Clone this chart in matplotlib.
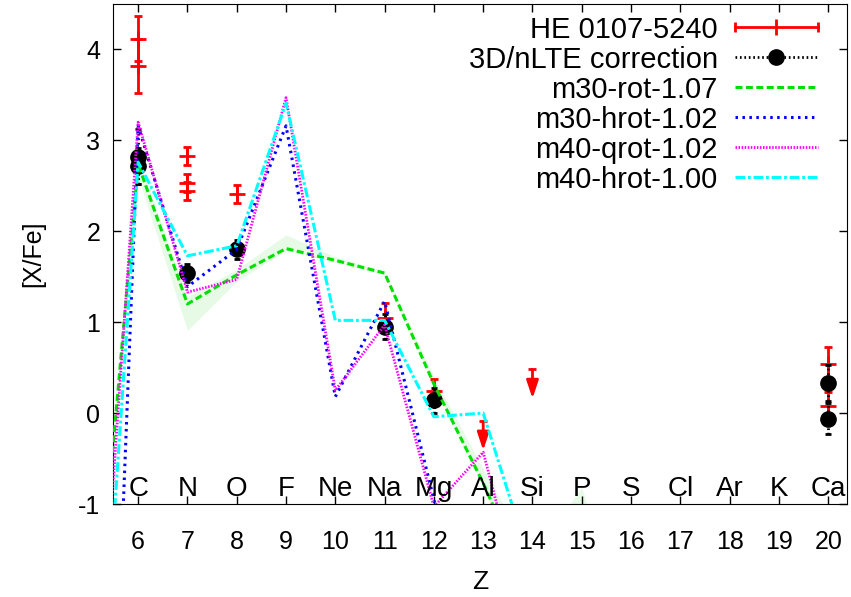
import numpy as np
import matplotlib
matplotlib.use('Agg')
import matplotlib.pyplot as plt

plt.rcParams['font.family'] = ['Liberation Sans', 'DejaVu Sans']
plt.rcParams['axes.unicode_minus'] = False
plt.rcParams['lines.scale_dashes'] = False

# element symbols shown inside the frame
elem_z = np.arange(6, 21)
elem_names = ['C', 'N', 'O', 'F', 'Ne', 'Na', 'Mg', 'Al', 'Si', 'P', 'S',
              'Cl', 'Ar', 'K', 'Ca']

# HE 0107-5240 observed abundances
he_z = [6, 6, 7, 7, 7, 8, 11, 12, 20, 20]
he_val = [4.12, 3.82, 2.83, 2.53, 2.44, 2.41, 1.05, 0.24, 0.54, 0.08]
he_err = [0.25, 0.30, 0.10, 0.10, 0.10, 0.10, 0.16, 0.14, 0.19, 0.15]

# upper limits (Al, Si)
lim_z = [13, 14]
lim_val = [-0.09, 0.48]

# 3D/nLTE corrected values
nlte_z = [6, 6, 7, 8, 11, 12, 20, 20]
nlte_val = [2.82, 2.72, 1.54, 1.80, 0.95, 0.14, 0.33, -0.06]
nlte_err = [0.30, 0.20, 0.10, 0.10, 0.14, 0.14, 0.20, 0.17]

# model yields, Z = 5 .. 16
model_z = np.arange(5, 17)
m30_rot = [-3.35, 2.74, 1.20, 1.52, 1.81, 1.68, 1.54, 0.32, -0.77, -2.0, -1.6, -3.0]
m30_rot_lo = [-3.5, 2.60, 0.91, 1.45, 1.79, 1.66, 1.52, 0.30, -0.80, -2.2, -1.8, -3.2]
m30_rot_hi = [-3.2, 2.80, 1.28, 1.58, 1.96, 1.72, 1.56, 0.40, -0.62, -1.57, -0.82, -2.6]
m30_hrot = [-10.7, 3.16, 1.39, 1.80, 3.16, 0.18, 1.23, -0.95, -3.5, -5.0, -6.0, -7.0]
m40_qrot = [-4.6, 3.20, 1.33, 1.47, 3.47, 0.25, 0.97, -1.03, -0.43, -2.5, -4.0, -5.0]
m40_hrot = [-5.25, 2.76, 1.73, 1.84, 3.41, 1.02, 1.02, -0.04, 0.00, -1.72, -3.0, -4.0]

green = '#00e000'
styles = [
    ('m30-rot-1.07', m30_rot, green, (0, (5, 2.5)), 2.2),
    ('m30-hrot-1.02', m30_hrot, '#0000ff', (0, (1.8, 3.2)), 2.2),
    ('m40-qrot-1.02', m40_qrot, '#ff00ff', (0, (1.1, 1.1)), 2.0),
    ('m40-hrot-1.00', m40_hrot, '#00ffff', (0, (7, 2, 2, 2)), 2.2),
]

fig = plt.figure(figsize=(8.51, 5.97), dpi=100)
ax = fig.add_axes([113 / 851, 1 - 504 / 597, 734 / 851, 500 / 597])

# model band
ax.fill_between(model_z, m30_rot_lo, m30_rot_hi, color='#e6fae6', lw=0, zorder=1)

# observations
ax.errorbar(he_z, he_val, yerr=he_err, fmt='none', ecolor='red',
            elinewidth=2, capsize=3, capthick=2, zorder=3)
ax.plot(he_z, he_val, '+', color='red', ms=12, mew=2, ls='none', zorder=3)
for z, v in zip(lim_z, lim_val):
    ax.annotate('', xy=(z, v - 0.32), xytext=(z, v),
                arrowprops=dict(arrowstyle='-|>,head_length=0.9,head_width=0.3',
                                color='red', lw=2, mutation_scale=12,
                                shrinkA=0, shrinkB=0), zorder=3)
ax.plot(lim_z, lim_val, '_', color='red', ms=6, mew=2, ls='none', zorder=3)

eb = ax.errorbar(nlte_z, nlte_val, yerr=nlte_err, fmt='o', color='black',
                 ms=11, ecolor='black', elinewidth=2, capsize=2.5,
                 capthick=2, zorder=4)
eb[2][0].set_linestyle((0, (1.2, 2.0)))

for lab, vals, col, ls, lw in styles:
    ax.plot(model_z, vals, color=col, ls=ls, lw=lw, zorder=5)

for z, name in zip(elem_z, elem_names):
    ax.text(z, -0.83, name, ha='center', va='center', fontsize=20, zorder=6)

ax.set_xlim(5.49, 20.38)
ax.set_ylim(-1, 4.5)
ax.set_xticks(elem_z)
ax.set_yticks(range(-1, 5))
ax.tick_params(direction='in', length=6, width=1, top=True, right=True,
               labelsize=18)
ax.tick_params(axis='x', pad=19)
ax.tick_params(axis='y', pad=9)
ax.set_xlabel('Z', fontsize=19, labelpad=11)
ax.set_ylabel('[X/Fe]', fontsize=18, labelpad=24)

# legend, gnuplot style: text right-aligned, sample on the right
leg_labels = ['HE 0107-5240', '3D/nLTE correction'] + [s[0] for s in styles]
y0, dy = 0.954, 0.06
x_text, x1, x2 = 0.824, 0.847, 0.960
xm = (x1 + x2) / 2
tr = ax.transAxes
for i, lab in enumerate(leg_labels):
    y = y0 - i * dy
    ax.text(x_text, y, lab, transform=tr, ha='right', va='center_baseline',
            fontsize=21, zorder=7)
    if i == 0:
        ax.plot([x1, x2], [y, y], color='red', lw=2, transform=tr, zorder=7)
        ax.plot([x1, x2], [y, y], '|', color='red', ms=7, mew=2, transform=tr, zorder=7)
        ax.plot([xm], [y], '|', color='red', ms=12, mew=2, transform=tr, zorder=7)
    elif i == 1:
        ax.plot([x1, x2], [y, y], color='black', lw=2, ls=(0, (1.2, 2.0)),
                transform=tr, zorder=7)
        ax.plot([xm], [y], 'o', color='black', ms=11, transform=tr, zorder=7)
    else:
        _, _, col, ls, lw = styles[i - 2]
        ax.plot([x1, x2], [y, y], color=col, ls=ls, lw=lw, transform=tr, zorder=7)

fig.savefig('out.png', dpi=100)
